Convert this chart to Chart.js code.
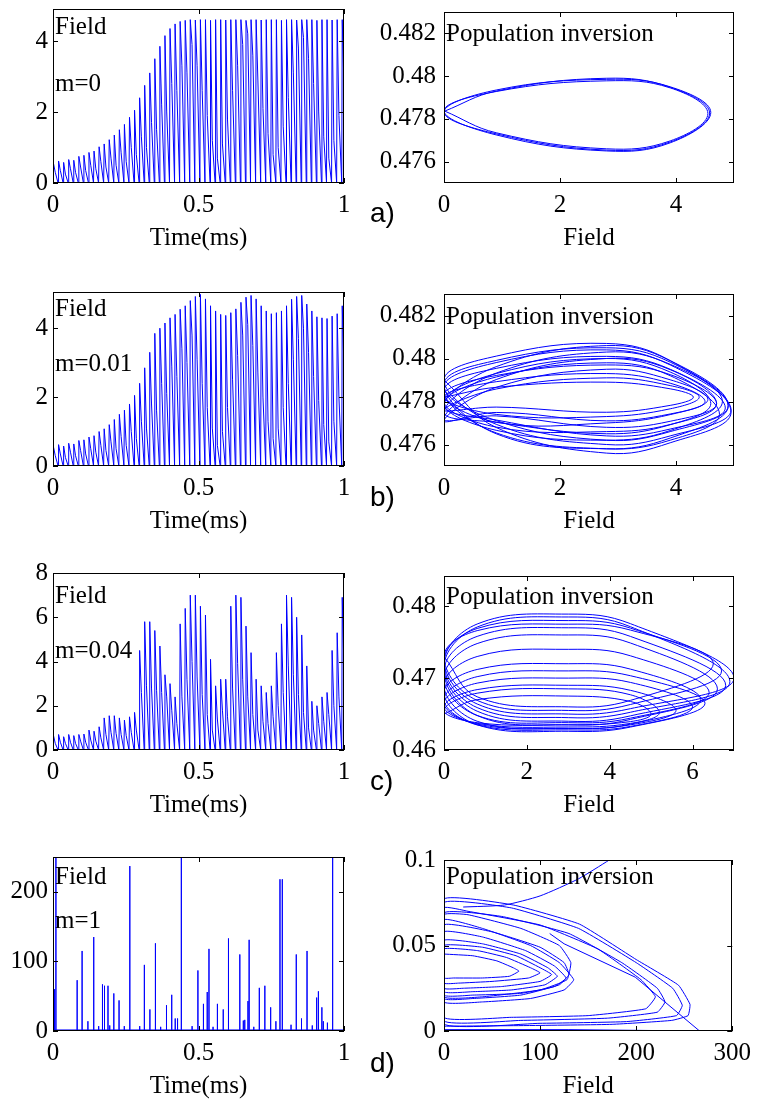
<!DOCTYPE html>
<html>
<head>
<meta charset="utf-8">
<script src="https://cdn.jsdelivr.net/npm/chart.js@4.4.1/dist/chart.umd.min.js"></script>
<style>
  html, body { margin: 0; padding: 0; background: #fff; }
  body { position: relative; width: 759px; height: 1103px; overflow: hidden; }
  canvas { position: absolute; }
  .tag { position: absolute; left: 370px; font: 28px "Liberation Sans", Arial, sans-serif; line-height: 28px; color: #000; }
</style>
</head>
<body>
<canvas id="ta" width="360" height="264" style="left:0;top:-11px"></canvas>
<canvas id="pa" width="378" height="264" style="left:380px;top:-11px"></canvas>
<canvas id="tb" width="360" height="264" style="left:0;top:272px"></canvas>
<canvas id="pb" width="378" height="265" style="left:380px;top:271px"></canvas>
<canvas id="tc" width="360" height="267" style="left:0;top:553px"></canvas>
<canvas id="pc" width="378" height="267" style="left:380px;top:553px"></canvas>
<canvas id="td" width="360" height="264" style="left:0;top:837px"></canvas>
<canvas id="pd" width="378" height="264" style="left:380px;top:837px"></canvas>
<div class="tag" style="top:199px">a)</div>
<div class="tag" style="top:483px">b)</div>
<div class="tag" style="top:767px">c)</div>
<div class="tag" style="top:1049px">d)</div>
<script>
// tick values
const timeTicks = [0, 0.5, 1]
const fieldTicks = [0, 2, 4]
const fieldTicksC = [0, 2, 4, 6, 8]
const fieldTicksD = [0, 100, 200]
const popTicksAB = [0.476, 0.478, 0.48, 0.482]
const popTicksC = [0.46, 0.47, 0.48]
const popTicksD = [0, 0.05, 0.1]
const phaseXTicksAB = [0, 2, 4]
const phaseXTicksC = [0, 2, 4, 6]
const phaseXTicksD = [0, 100, 200, 300]

// field vs time: peak and intermediate sample of each oscillation
const peaksA = [0.55,0.62,0.58,0.66,0.64,0.75,0.78,0.86,0.9,1.02,1.1,1.22,1.35,1.5,1.65,1.85,2.05,2.4,2.75,3.1,3.5,3.85,4.15,4.35,4.48,4.55,4.58,
  4.6,4.59,4.6,4.6,4.58,4.6,4.6,4.59,4.6,4.6,4.6,4.58,4.6,4.6,4.59,4.6,4.6,4.6,4.58,4.6,4.6,4.59,4.6,4.6,4.6,4.58,4.6,4.6,4.59,4.6,4.6]
const midsA = [0.3,0.35,0.25,0.4,0.3,0.45,0.35,0.5,0.4,0.6,0.45,0.7,0.5,0.85,0.6,1.0,0.8,1.3,1.0,1.7,1.5,2.2,2.0,2.8,2.6,3.3,3.1,
  3.9,3.3,2.6,1.9,1.2,0.7,1.1,1.8,2.6,3.3,3.9,4.2,3.6,2.9,2.1,1.4,0.8,1.0,1.6,2.4,3.1,3.8,4.1,3.5,2.8,2.0,1.3,0.7,1.2,1.9,2.7]

const peaksB = [0.55,0.62,0.58,0.66,0.64,0.74,0.76,0.84,0.88,1.0,1.08,1.2,1.35,1.5,1.62,
  1.8,2.05,2.4,2.85,3.3,3.85,4.0,4.15,4.3,4.4,4.55,4.65,4.8,4.92,4.98,4.85,4.65,4.5,4.4,4.37,4.45,4.56,4.75,4.9,4.95,
  4.85,4.65,4.5,4.42,4.45,4.5,4.65,4.84,4.92,4.95,4.7,4.5,4.33,4.3,4.28,4.35,4.42,4.65]
const midsB = [0.3,0.35,0.25,0.4,0.3,0.45,0.35,0.5,0.4,0.6,0.45,0.7,0.5,0.85,0.6,1.0,0.8,1.3,1.1,1.8,1.6,2.4,2.1,2.9,2.6,3.4,3.0,
  3.8,3.1,2.4,1.7,1.1,0.6,1.0,1.7,2.5,3.2,3.8,4.1,3.5,2.7,2.0,1.3,0.8,1.1,1.7,2.4,3.1,3.7,4.0,3.3,2.6,1.9,1.2,0.7,1.3,2.0,2.8]

const peaksC = [0.65,0.7,0.6,0.7,0.65,0.7,0.72,0.9,0.85,1.05,1.45,1.55,1.55,1.45,1.35,1.5,1.7,
  4.5,5.8,5.8,5.4,4.7,3.4,3.0,2.4,
  5.7,6.4,7.0,7.0,6.5,6.1,4.1,2.9,3.2,3.2,
  6.5,7.0,6.9,5.6,4.4,3.2,2.9,2.6,2.9,4.4,
  5.7,7.0,6.9,6.0,5.2,3.8,2.2,2.0,2.4,2.6,4.5,5.3,6.9]
const midsC = [0.3,0.35,0.3,0.35,0.3,0.4,0.35,0.45,0.4,0.55,0.7,0.8,0.75,0.7,0.65,0.8,0.9,
  2.6,2.9,2.8,2.7,2.6,2.4,1.8,1.2,
  2.4,3.2,4.0,3.3,2.5,1.6,0.9,1.4,1.8,1.5,
  2.8,3.9,3.2,2.4,1.6,0.9,1.3,1.2,1.5,2.0,
  2.6,3.8,3.4,2.5,1.7,1.0,0.9,1.2,1.3,1.6,2.0,2.4,3.6]

// m=1: isolated spikes
const spikeTimesD = [0.005,0.01,0.083,0.1,0.12,0.14,0.157,0.17,0.177,0.189,0.195,0.209,0.227,0.245,0.264,0.298,0.314,0.333,0.352,0.37,
  0.39,0.408,0.42,0.428,0.441,0.478,0.498,0.517,0.53,0.536,0.55,0.565,0.585,0.603,0.642,0.654,0.659,0.67,0.674,0.69,
  0.709,0.728,0.748,0.766,0.78,0.788,0.818,0.836,0.854,0.873,0.891,0.906,0.912,0.924,0.929,0.943,0.961]
const spikeHeightsD = [60,255,73,115,14,135,7,67,65,65,8,54,44,7,237,7,95,31,126,6,
  37,52,18,18,255,7,87,39,56,118,6,39,31,133,110,15,16,43,131,6,
  62,65,34,14,218,218,9,110,18,115,8,48,57,34,14,12,255]
const spikeBaseD = 1.5

// phase loops: [left y, upper y @s1, top y @s2, upper y @s3, right x, right y, lower y @s3, bottom y @s2, lower y @s1]
const stationsA = [0, 0.9, 2.8, 3.9]
const loopsA = [
  [0.47835, 0.4793, 0.4799, 0.47948, 4.58, 0.47827, 0.47692, 0.47654, 0.4773],
  [0.47832, 0.47935, 0.47985, 0.4795, 4.6, 0.4783, 0.47688, 0.4765, 0.47725],
  [0.47838, 0.47928, 0.47978, 0.47945, 4.55, 0.47825, 0.47697, 0.4766, 0.47735]
]
const stationsB = [0, 0.9, 2.8, 3.9]
const loopsB = [
  [0.4782, 0.47866, 0.4789, 0.47859, 4.3, 0.4782, 0.47782, 0.4775, 0.47774],
  [0.4776, 0.47858, 0.4791, 0.47874, 4.4, 0.4782, 0.47766, 0.4773, 0.4774],
  [0.4782, 0.47892, 0.4793, 0.47885, 4.5, 0.4780, 0.47742, 0.4771, 0.47749],
  [0.4771, 0.47866, 0.4795, 0.47901, 4.55, 0.4781, 0.47739, 0.4770, 0.47704],
  [0.4783, 0.47921, 0.4797, 0.47925, 4.7, 0.4779, 0.47708, 0.4768, 0.47733],
  [0.4772, 0.47902, 0.4800, 0.47948, 4.7, 0.4779, 0.47693, 0.4766, 0.47681],
  [0.4780, 0.4793, 0.4800, 0.47937, 4.6, 0.4779, 0.47692, 0.4765, 0.47703],
  [0.4775, 0.47932, 0.4803, 0.47973, 4.8, 0.4780, 0.47665, 0.4762, 0.47666],
  [0.4779, 0.47914, 0.4798, 0.4792, 4.75, 0.4774, 0.4762, 0.4758, 0.47654],
  [0.4785, 0.47954, 0.4801, 0.4795, 4.85, 0.4777, 0.47672, 0.4764, 0.47714],
  [0.4778, 0.47962, 0.4806, 0.4799, 4.9, 0.4778, 0.4763, 0.4758, 0.4765],
  [0.4788, 0.47991, 0.4805, 0.47983, 4.9, 0.4778, 0.4766, 0.4762, 0.47711],
  [0.4787, 0.47981, 0.4804, 0.4797, 4.95, 0.4776, 0.4764, 0.4760, 0.47694],
  [0.4790, 0.48011, 0.4807, 0.4799, 4.95, 0.4775, 0.47608, 0.4756, 0.47679]
]
const stationsC = [0, 0.8, 3.0, 4.5]
const loopsC = [
  [0.4650, 0.4670, 0.4675, 0.46675, 5.0, 0.4650, 0.46395, 0.4635, 0.4638],
  [0.4655, 0.4679, 0.4685, 0.46768, 5.2, 0.4652, 0.4637, 0.4632, 0.4637],
  [0.4660, 0.4684, 0.4690, 0.4683, 5.6, 0.4655, 0.4635, 0.4630, 0.4636],
  [0.4665, 0.4693, 0.4700, 0.4694, 6.0, 0.4660, 0.46328, 0.4628, 0.4635],
  [0.4670, 0.4702, 0.4710, 0.47033, 6.3, 0.4665, 0.46319, 0.4626, 0.4635],
  [0.4680, 0.4712, 0.4720, 0.47125, 6.2, 0.4670, 0.4636, 0.4630, 0.4640],
  [0.4690, 0.4730, 0.4740, 0.4731, 6.4, 0.4680, 0.46443, 0.4638, 0.4648],
  [0.4700, 0.4748, 0.4760, 0.47488, 6.6, 0.4685, 0.46425, 0.4635, 0.4648],
  [0.4710, 0.4758, 0.4770, 0.4758, 6.8, 0.4690, 0.46475, 0.4640, 0.4654],
  [0.4715, 0.4771, 0.4785, 0.47715, 6.9, 0.4695, 0.46525, 0.4645, 0.4659],
  [0.4720, 0.47752, 0.4789, 0.47757, 7.0, 0.4700, 0.46575, 0.4650, 0.4664],
  [0.4725, 0.4769, 0.4780, 0.47695, 6.7, 0.4710, 0.46633, 0.4655, 0.4669],
  [0.4730, 0.4766, 0.4775, 0.47668, 6.5, 0.4720, 0.4669, 0.4660, 0.4674]
]
// m=1 phase portrait, traced as [field, inversion] points
const loopsD = [
  [[0,0.045],[30,0.044],[55,0.041],[72,0.037],[78,0.035],[68,0.032],[40,0.031],[10,0.031],[0,0.031]],
  [[0,0.048],[35,0.047],[65,0.043],[90,0.037],[100,0.034],[88,0.031],[50,0.029],[15,0.028],[0,0.028]],
  [[0,0.050],[40,0.049],[75,0.044],[100,0.037],[112,0.033],[100,0.029],[60,0.026],[20,0.025],[0,0.025]],
  [[0,0.053],[40,0.051],[80,0.045],[108,0.037],[118,0.032],[105,0.027],[70,0.024],[30,0.023],[0,0.023]],
  [[0,0.058],[40,0.055],[85,0.047],[115,0.038],[127,0.031],[115,0.026],[80,0.022],[30,0.021],[0,0.021]],
  [[0,0.065],[40,0.060],[90,0.050],[120,0.040],[135,0.030],[125,0.024],[90,0.019],[40,0.017],[0,0.017]],
  [[0,0.062],[50,0.058],[100,0.049],[125,0.040],[130,0.033],[120,0.027],[80,0.021],[30,0.019],[0,0.019]],
  [[0,0.068],[25,0.068],[80,0.060],[120,0.050],[132,0.040],[128,0.030],[100,0.024],[40,0.020],[0,0.020]],
  [[0,0.072],[25,0.070],[100,0.062],[160,0.048],[205,0.030],[220,0.020],[210,0.013],[150,0.009],[70,0.008],[0,0.008]],
  [[0,0.069],[60,0.067],[130,0.057],[185,0.040],[222,0.025],[230,0.017],[222,0.011],[170,0.0075],[80,0.0062],[0,0.006]],
  [[0,0.075],[70,0.072],[140,0.060],[200,0.040],[238,0.025],[248,0.015],[242,0.009],[190,0.0055],[100,0.0045],[0,0.0042]],
  [[0,0.0771],[72,0.0737],[141,0.0625],[200,0.0418],[244,0.0268],[256,0.0156],[254,0.009],[237,0.0062],[175,0.0039],[89,0.0032],[0,0.0028]]
]
const escapeD = [[20,0.0725],[63,0.0737],[100,0.079],[140,0.089],[172,0.1],[200,0.11]]
const decayD = [[110,0.057],[125,0.051],[199,0.0315],[266,0],[130,0.0008],[0,0.0008]]

// where the three samples of one oscillation fall inside its period
const cycleOffsets = [0, 0.1, 0.45]

// builders
function waveform(peaks, mids) {
  const n = peaks.length
  const pts = []
  peaks.forEach((p, i) => {
    pts.push({x: (i + cycleOffsets[0]) / (n - 1 + cycleOffsets[2]), y: 0})
    pts.push({x: (i + cycleOffsets[1]) / (n - 1 + cycleOffsets[2]), y: p})
    pts.push({x: (i + cycleOffsets[2]) / (n - 1 + cycleOffsets[2]), y: mids[i]})
  })
  return pts
}
function spikes(times, heights, base) {
  const pts = [{x: 0, y: base}]
  times.forEach((t, i) => {
    pts.push({x: t, y: base}, {x: t, y: heights[i]}, {x: t, y: base})
  })
  pts.push({x: 1, y: base})
  return pts
}
function loops(list, st) {
  const pts = []
  list.forEach(l => {
    pts.push({x: st[0], y: l[0]}, {x: st[1], y: l[1]}, {x: st[2], y: l[2]}, {x: st[3], y: l[3]},
      {x: l[4], y: l[5]}, {x: st[3], y: l[6]}, {x: st[2], y: l[7]}, {x: st[1], y: l[8]})
  })
  pts.push({x: st[0], y: list[list.length - 1][0]})
  return pts
}
const pairs = list => list.map(p => ({x: p[0], y: p[1]}))

const serif = "'Liberation Serif', 'Times New Roman', serif"
const tickFont = {family: serif, size: 25}

// box with inward tick marks on all sides, plus in-plot labels
const framePlugin = {
  id: 'frame',
  afterDraw(chart, args, opts) {
    const {ctx, chartArea: a, scales: {x, y}} = chart
    ctx.save()
    ctx.strokeStyle = '#000'
    ctx.lineWidth = 1
    ctx.beginPath()
    const len = 5
    x.ticks.forEach(t => {
      const px = Math.round(x.getPixelForValue(t.value)) + 0.5
      ctx.moveTo(px, a.bottom); ctx.lineTo(px, a.bottom - len)
      ctx.moveTo(px, a.top); ctx.lineTo(px, a.top + len)
    })
    y.ticks.forEach(t => {
      const py = Math.round(y.getPixelForValue(t.value)) + 0.5
      ctx.moveTo(a.left, py); ctx.lineTo(a.left + len, py)
      ctx.moveTo(a.right, py); ctx.lineTo(a.right - len, py)
    })
    ctx.stroke()
    ctx.strokeRect(Math.round(a.left) + 0.5, Math.round(a.top) + 0.5, Math.round(a.width) - 1, Math.round(a.height) - 1)
    ctx.fillStyle = '#000'
    ctx.font = '25px ' + serif
    ctx.textBaseline = 'middle'
    ctx.textAlign = 'left'
    ;(opts.labels || []).forEach(l => ctx.fillText(l.text, a.left + 2, a.top + l.dy))
    ctx.restore()
  }
}

function makeChart(id, c) {
  return new Chart(document.getElementById(id), {
    type: 'scatter',
    data: {
      datasets: c.sets.map(s => ({
        data: s.data, showLine: true, borderColor: '#0000ff', borderWidth: 1,
        pointRadius: 0, tension: s.tension || 0
      }))
    },
    options: {
      responsive: false,
      animation: false,
      events: [],
      layout: {padding: {top: 16, right: c.padRight, left: 0, bottom: 0}},
      plugins: {legend: {display: false}, tooltip: {enabled: false}, frame: {labels: c.labels}},
      scales: {
        x: {
          type: 'linear', min: c.xMin, max: c.xMax,
          grid: {display: false, drawTicks: false}, border: {display: false},
          afterBuildTicks: s => { s.ticks = c.xTicks.map(v => ({value: v})) },
          afterFit: s => { s.height = 70 },
          ticks: {padding: 7, font: tickFont, color: '#000', autoSkip: false, maxRotation: 0, callback: v => String(v)},
          title: {display: true, text: c.xTitle, font: tickFont, color: '#000', padding: {top: 0, bottom: 0}}
        },
        y: {
          type: 'linear', min: c.yMin, max: c.yMax,
          grid: {display: false, drawTicks: false}, border: {display: false},
          afterBuildTicks: s => { s.ticks = c.yTicks.map(v => ({value: v})) },
          afterFit: s => { s.width = c.yWidth },
          ticks: {padding: c.yPad, font: tickFont, color: '#000', autoSkip: false, callback: v => String(v)}
        }
      }
    },
    plugins: [framePlugin]
  })
}

const leftBase = {xMin: 0, xMax: 1, xTicks: timeTicks, xTitle: 'Time(ms)', yWidth: 53, yPad: 5, padRight: 16}
const rightBase = {xMin: 0, xTitle: 'Field', yWidth: 64, yPad: 8, padRight: 24}

makeChart('ta', Object.assign({}, leftBase, {
  yMin: 0, yMax: 4.9, yTicks: fieldTicks,
  sets: [{data: waveform(peaksA, midsA)}],
  labels: [{text: 'Field', dy: 18}, {text: 'm=0', dy: 75}]
}))
makeChart('tb', Object.assign({}, leftBase, {
  yMin: 0, yMax: 5.05, yTicks: fieldTicks,
  sets: [{data: waveform(peaksB, midsB)}],
  labels: [{text: 'Field', dy: 17}, {text: 'm=0.01', dy: 72}]
}))
makeChart('tc', Object.assign({}, leftBase, {
  yMin: 0, yMax: 8, yTicks: fieldTicksC,
  sets: [{data: waveform(peaksC, midsC)}],
  labels: [{text: 'Field', dy: 23}, {text: 'm=0.04', dy: 78}]
}))
makeChart('td', Object.assign({}, leftBase, {
  yMin: 0, yMax: 250, yTicks: fieldTicksD,
  sets: [{data: spikes(spikeTimesD, spikeHeightsD, spikeBaseD)}],
  labels: [{text: 'Field', dy: 20}, {text: 'm=1', dy: 64}]
}))

makeChart('pa', Object.assign({}, rightBase, {
  xMax: 5, xTicks: phaseXTicksAB, yMin: 0.475, yMax: 0.483, yTicks: popTicksAB,
  sets: [{data: loops(loopsA, stationsA), tension: 0.4}],
  labels: [{text: 'Population inversion', dy: 22}]
}))
makeChart('pb', Object.assign({}, rightBase, {
  xMax: 5, xTicks: phaseXTicksAB, yMin: 0.475, yMax: 0.483, yTicks: popTicksAB,
  sets: [{data: loops(loopsB, stationsB), tension: 0.4}],
  labels: [{text: 'Population inversion', dy: 23}]
}))
makeChart('pc', Object.assign({}, rightBase, {
  xMax: 7, xTicks: phaseXTicksC, yMin: 0.46, yMax: 0.4842, yTicks: popTicksC,
  sets: [{data: loops(loopsC, stationsC), tension: 0.4}],
  labels: [{text: 'Population inversion', dy: 21}]
}))
makeChart('pd', Object.assign({}, rightBase, {
  xMax: 300, xTicks: phaseXTicksD, yMin: 0, yMax: 0.1, yTicks: popTicksD,
  sets: [
    {data: [].concat(...loopsD.map(pairs)), tension: 0.12},
    {data: pairs(escapeD), tension: 0.2},
    {data: pairs(decayD)}
  ],
  labels: [{text: 'Population inversion', dy: 17}]
}))
</script>
</body>
</html>
